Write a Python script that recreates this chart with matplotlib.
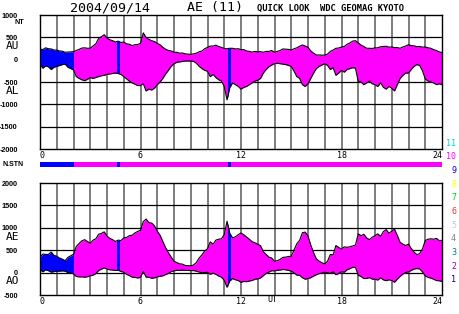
import numpy as np
import matplotlib
matplotlib.use('Agg')
import matplotlib.pyplot as plt
from matplotlib.patches import Rectangle

# AU and AL in nT, 10-minute samples (0 UT .. 24 UT)
au = [240, 225, 265, 245, 240, 215,
      215, 195, 190, 165, 170, 175,
      180, 205, 230, 260, 265, 255,
      255, 305, 355, 475, 515, 560,
      485, 445, 425, 395, 415, 385,
      395, 355, 345, 315, 335, 340,
      365, 600, 495, 455, 425, 405,
      365, 335, 275, 235, 205, 195,
      165, 165, 145, 150, 130, 125,
      120, 130, 145, 175, 195, 245,
      275, 305, 305, 325, 295, 275,
      250, 245, 255, 255, 240, 245,
      225, 225, 195, 185, 170, 185,
      175, 180, 165, 185, 185, 205,
      165, 185, 205, 240, 235, 230,
      215, 245, 265, 300, 330, 305,
      275, 195, 145, 105, 105, 100,
      105, 125, 185, 215, 255, 260,
      285, 295, 345, 375, 415, 425,
      375, 325, 295, 255, 255, 250,
      265, 265, 290, 295, 300, 280,
      285, 270, 270, 255, 285, 305,
      335, 315, 310, 290, 295, 280,
      285, 265, 255, 225, 205, 175,
      160]
al = [-100, -190, -140, -160, -220, -170,
      -150, -130, -110, -100, -170, -200,
      -230, -380, -420, -450, -470, -440,
      -400, -420, -400, -380, -360, -350,
      -330, -320, -310, -300, -310, -330,
      -380, -430, -480, -520, -550, -580,
      -580, -540, -700, -660, -680, -640,
      -560, -500, -420, -320, -240, -150,
      -90, -60, -50, -40, -30, -30,
      -30, -40, -80, -150, -200, -240,
      -260, -380, -330, -400, -450, -480,
      -600, -900, -620, -520, -560, -600,
      -660, -620, -600, -560, -520, -480,
      -460, -420, -300, -220, -160, -120,
      -90, -80, -90, -100, -110, -130,
      -150, -260, -380, -420, -560, -600,
      -540, -420, -300, -200, -150, -120,
      -90, -130, -220, -180, -350, -300,
      -240, -280, -220, -200, -180, -190,
      -490, -500, -560, -520, -480, -540,
      -560, -600, -520, -620, -660, -600,
      -640, -700, -560, -420, -350, -300,
      -300, -220, -150, -110, -130, -250,
      -430, -480, -500, -520, -560, -540,
      -560]

# number of contributing stations
nstn_start = [0, 2.0, 4.58, 4.75, 11.25, 11.42]
nstn_end = [2.0, 4.58, 4.75, 11.25, 11.42, 24]
nstn = [9, 10, 9, 10, 9, 10]

# station-count colour key
key_labels = ['11', '10', '9', '8', '7', '6', '5', '4', '3', '2', '1']
key_colors = ['#00d8d8', '#ff00ff', '#0000ff', '#ffff00', '#00d000', '#ff3030',
              '#c8c8c8', '#808080', '#008080', '#900090', '#000090']
ncolor = dict(zip([int(k) for k in key_labels], key_colors))

t = np.arange(len(au)) / 6.0
au = np.array(au, float)
al = np.array(al, float)
ae = au - al
ao = (au + al) / 2

W, H = 459, 314
mono = 'DejaVu Sans Mono'
small = 'Liberation Sans'
fig = plt.figure(figsize=(W / 100, H / 100), dpi=100)
ax1 = fig.add_axes([40 / W, 1 - 149 / H, 402 / W, 134 / H])
ax2 = fig.add_axes([40 / W, 1 - 295 / H, 402 / W, 112 / H])
axn = fig.add_axes([40 / W, 1 - 166.5 / H, 402 / W, 5 / H])


def panel(ax, lo, hi, ylim):
    ax.set_xlim(0, 24)
    ax.set_ylim(*ylim)
    for h in range(1, 24):
        ax.axvline(h, color='#5a5a5a', lw=1.1, zorder=1)
    for v in range(ylim[0] + 500, ylim[1], 500):
        ax.axhline(v, color='black', lw=0.9, zorder=1)
    for s, e, n in zip(nstn_start, nstn_end, nstn):
        poly = ax.fill_between(t, lo, hi, color=ncolor[n], lw=0, zorder=2)
        poly.set_clip_path(Rectangle((s, -5000), e - s, 10000, transform=ax.transData))
    ax.plot(t, hi, color='black', lw=0.8, zorder=3)
    ax.plot(t, lo, color='black', lw=0.8, zorder=3)
    ticks = list(range(ylim[0], ylim[1] + 1, 500))
    ax.set_yticks(ticks)
    ax.set_yticklabels([str(v) for v in ticks], fontsize=5.2, fontweight='bold',
                       family=small)
    ax.set_xticks([0, 6, 12, 18, 24])
    ax.set_xticklabels(['0', '6', '12', '18', '24'], fontsize=6, family=mono)
    xl = ax.get_xticklabels()
    xl[0].set_ha('left')
    xl[-1].set_ha('right')
    ax.tick_params(length=0, pad=1.5)
    ax.tick_params(axis='y', pad=16)
    for sp in ax.spines.values():
        sp.set_linewidth(1.0)


panel(ax1, al, au, (-2000, 1000))
panel(ax2, ao, ae, (-500, 2000))

axn.set_xlim(0, 24)
axn.set_ylim(0, 1)
axn.broken_barh([(s, e - s) for s, e in zip(nstn_start, nstn_end)], (0, 1),
                facecolors=[ncolor[n] for n in nstn])
axn.axis('off')

fig.text(110 / W, 1 - 8 / H, '2004/09/14', ha='center', va='center', fontsize=9.5, family=mono)
fig.text(215 / W, 1 - 8 / H, 'AE (11)', ha='center', va='center', fontsize=9.5, family=mono)
fig.text(257 / W, 1 - 8 / H, 'QUICK LOOK  WDC GEOMAG KYOTO', ha='left', va='center',
         fontsize=6.3, family=mono, fontweight='bold')
fig.text(24 / W, 1 - 23 / H, 'NT', ha='right', va='center', fontsize=5.2,
         fontweight='bold', family=small)
fig.text(24 / W, 1 - 164 / H, 'N.STN', ha='right', va='center', fontsize=5,
         fontweight='bold', family=small)
for lab, y in [('AU', 46), ('AL', 91), ('AE', 237), ('AO', 281)]:
    fig.text(13 / W, 1 - y / H, lab, ha='center', va='center', fontsize=8, family=mono)
fig.text(272 / W, 1 - 300 / H, 'UT', ha='center', va='center', fontsize=6, family=mono)

for i, (lab, col) in enumerate(zip(key_labels, key_colors)):
    fig.text(456 / W, 1 - (143 + 13.7 * i) / H, lab, ha='right', va='center',
             fontsize=6, color=col, family=mono)

fig.savefig('out.png', dpi=100)
